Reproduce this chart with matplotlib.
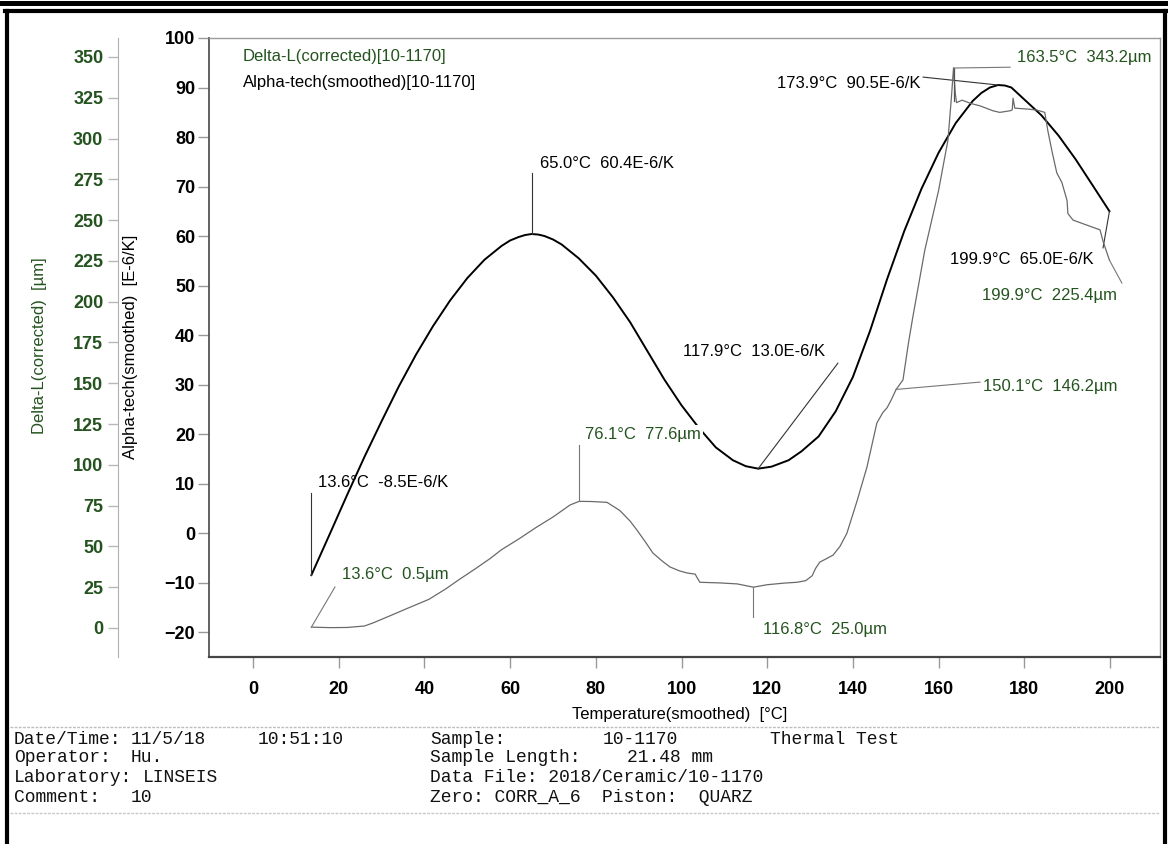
import matplotlib.pyplot as plt

plt.rcParams['font.family'] = ['Liberation Sans', 'DejaVu Sans']

# alpha-tech (smoothed), E-6/K
alpha_temp = [13.6, 18, 22, 26, 30, 34, 38, 42, 46, 50, 54, 58, 60, 62, 63.5, 65.0, 66.5,
              68, 70, 72, 76, 80, 84, 88, 92, 96, 100, 104, 108, 112, 115, 117.9, 121, 125,
              128, 132, 136, 140, 144, 148, 152, 156, 160, 164, 168, 170, 172, 173.9, 175.5,
              177, 180, 184, 188, 192, 196, 199.9]
alpha_val = [-8.5, 0.0, 7.8, 15.4, 22.6, 29.6, 36.0, 41.8, 47.0, 51.5, 55.2, 58.0, 59.1,
             59.8, 60.2, 60.4, 60.3, 60.0, 59.3, 58.3, 55.5, 52.0, 47.6, 42.6, 36.8, 31.0,
             25.8, 21.3, 17.3, 14.7, 13.5, 13.0, 13.4, 14.7, 16.5, 19.5, 24.6, 31.5, 40.8,
             51.3, 61.0, 69.5, 76.8, 82.8, 87.3, 88.9, 90.0, 90.5, 90.4, 90.0, 87.6, 84.4,
             80.3, 75.5, 70.2, 65.0]

# delta-L (corrected), um
dl_temp = [13.6, 18, 22, 26, 28, 32, 36, 41, 45, 48, 52, 55.3, 58, 62, 66, 70, 74, 76.1,
           79, 82.6, 85.6, 88, 89.6, 91.5, 93.3, 95.5, 97.3, 99.5, 101.3, 103.2, 103.6,
           104.3, 109, 113, 116.8, 120, 124, 127, 129, 130.5, 131.3, 132.3, 133.5, 135.4,
           137, 138.6, 141, 143.3, 145.6, 147, 148, 149, 150.1, 151.7, 153, 154, 156.8,
           160, 162.2, 163.0, 163.5, 163.9, 164.2, 165.5, 167.5, 169.7, 172.7, 174.3,
           176.7, 177.2, 177.4, 177.8, 181, 183, 184.8, 185.5, 186.5, 187.6, 188.8, 190,
           190.2, 191.4, 194, 197.7, 198.4, 199.9]
dl_val = [0.5, 0.2, 0.3, 1.2, 3.1, 7.5, 12.0, 17.5, 24.0, 29.5, 36.5, 42.5, 48.0, 54.5,
          61.5, 68.0, 75.4, 77.6, 77.5, 77.0, 72.0, 65.5, 60.0, 53.0, 46.0, 41.0, 37.4,
          35.0, 33.7, 33.0, 31.0, 28.0, 27.6, 27.0, 25.0, 26.5, 27.5, 28.0, 29.0, 32.0,
          36.5, 40.4, 42.0, 44.7, 50.0, 58.0, 78.0, 98.7, 125.6, 132.0, 135.0, 140.0,
          146.2, 152.0, 175.0, 190.6, 231.6, 268.0, 299.0, 325.0, 343.2, 328.0, 322.0,
          323.5, 321.5, 320.0, 317.0, 316.0, 317.0, 317.5, 324.7, 318.6, 318.0, 317.4,
          316.0, 305.0, 292.0, 279.0, 273.0, 262.0, 254.0, 250.0, 247.5, 244.0, 237.0,
          225.4]

# evaluated points
alpha_mark_t = [13.6, 65.0, 117.9, 173.9, 199.9]
alpha_mark_v = [-8.5, 60.4, 13.0, 90.5, 65.0]
dl_mark_t = [13.6, 76.1, 116.8, 150.1, 163.5, 199.9]
dl_mark_v = [0.5, 77.6, 25.0, 146.2, 343.2, 225.4]

x_ticks = list(range(0, 201, 20))
alpha_ticks = list(range(-20, 101, 10))
dl_ticks = list(range(0, 351, 25))

GREEN = '#24531f'
W, H = 1168, 844

fig = plt.figure(figsize=(W / 100, H / 100), dpi=100)


def fx(x):
    return x / W


def fy(y):
    return 1 - y / H


ax = fig.add_axes([fx(209), fy(657), (1160 - 209) / W, (657 - 38) / H])
ax.set_xlim(-10.3, 211.7)
ax.set_ylim(-25.05, 100)
ax.plot(alpha_temp, alpha_val, color='black', lw=1.4, solid_joinstyle='round')

ax2 = ax.twinx()
ax2.set_ylim(-17.8, 361.6)
ax2.plot(dl_temp, dl_val, color='#6a6a6a', lw=0.9)

# axes styling
for s in ['top', 'right']:
    ax.spines[s].set_color('#9a9a9a')
    ax.spines[s].set_linewidth(1.0)
ax.spines['left'].set_color('#555555')
ax.spines['left'].set_linewidth(1.3)
ax.spines['bottom'].set_color('#444444')
ax.spines['bottom'].set_linewidth(1.6)

ax.set_xticks(x_ticks)
ax.set_yticks(alpha_ticks)
ax.tick_params(axis='x', direction='out', length=8, width=1, color='#999999', pad=9,
               labelsize=13)
ax.tick_params(axis='y', direction='out', length=8, width=1, color='#999999', pad=2,
               labelsize=13)
for lab in ax.get_xticklabels() + ax.get_yticklabels():
    lab.set_fontweight('bold')

for s in ['top', 'bottom', 'right']:
    ax2.spines[s].set_visible(False)
ax2.spines['left'].set_visible(True)
ax2.spines['left'].set_position(('outward', 65.5))
ax2.spines['left'].set_color('#b0b0b0')
ax2.yaxis.set_ticks_position('left')
ax2.set_yticks(dl_ticks)
ax2.tick_params(axis='y', direction='out', length=7, width=1, color='#b8b8b8', pad=3.6,
                labelsize=13, labelcolor=GREEN)
for lab in ax2.get_yticklabels():
    lab.set_fontweight('bold')

# leader lines and value labels
alpha_lead = [(13.6, 8.1), (65.0, 72.7), (136.5, 34.3), (156.4, 92.1), (198.4, 57.6)]
alpha_lab_pos = [(15.2, 10.3, 'left'), (67.0, 74.7, 'left'), (100.4, 36.6, 'left'),
                 (155.7, 90.9, 'right'), (162.7, 55.2, 'left')]
for t, v, (lx, ly), (tx, ty, ha) in zip(alpha_mark_t, alpha_mark_v, alpha_lead, alpha_lab_pos):
    ax.plot([t, lx], [v, ly], color='#333333', lw=0.8)
    ax2.text(tx, ty, f'{t:.1f}°C  {v:.1f}E-6/K', transform=ax.transData, ha=ha,
             va='center', fontsize=12, color='black')

dl_lead = [(19.1, 25.1), (76.1, 112.0), (116.8, 6.7), (169.7, 150.7), (176.7, 343.7),
           (202.8, 211.4)]
dl_lab_pos = [(20.8, 32.5), (77.5, 118.3), (119.0, -1.2), (170.4, 147.7), (178.3, 349.9),
              (170.1, 204.0)]
for t, v, (lx, ly), (tx, ty) in zip(dl_mark_t, dl_mark_v, dl_lead, dl_lab_pos):
    if t == 163.5:
        ax2.plot([t, t], [v, 323.0], color='#555555', lw=0.9)
    ax2.plot([t, lx], [v, ly], color='#777777', lw=0.8)
    txt = ax2.text(tx, ty, f'{t:.1f}°C  {v:.1f}µm', ha='left', va='center', fontsize=12,
                   color=GREEN, zorder=5)
    if t == 76.1:
        txt.set_bbox(dict(facecolor='white', edgecolor='none', pad=1.5))

# series captions
fig.text(fx(243), fy(57), 'Delta-L(corrected)[10-1170]', fontsize=12, color=GREEN,
         va='center')
fig.text(fx(243), fy(83), 'Alpha-tech(smoothed)[10-1170]', fontsize=12, color='black',
         va='center')

# axis titles
fig.text(fx(40), fy(346), 'Delta-L(corrected)  [µm]', rotation=90, fontsize=12,
         color=GREEN, ha='center', va='center')
fig.text(fx(130), fy(347), 'Alpha-tech(smoothed)  [E-6/K]', rotation=90, fontsize=12,
         color='black', ha='center', va='center')
fig.text(fx(680), fy(714), 'Temperature(smoothed)  [°C]', fontsize=12, color='black',
         ha='center', va='center')

# run info block
mono = dict(family='Liberation Mono', fontsize=13, va='center', color='#111111')
info_rows = [
    (739, [(14, 'Date/Time:'), (131, '11/5/18'), (258, '10:51:10'), (430, 'Sample:'),
           (603, '10-1170'), (770, 'Thermal Test')]),
    (758, [(14, 'Operator:'), (131, 'Hu.'), (430, 'Sample Length:'), (627, '21.48 mm')]),
    (777, [(14, 'Laboratory:'), (143, 'LINSEIS'), (430, 'Data File: 2018/Ceramic/10-1170')]),
    (797, [(14, 'Comment:'), (131, '10'), (430, 'Zero: CORR_A_6  Piston:  QUARZ')]),
]
for y, items in info_rows:
    for x, s in items:
        fig.text(fx(x), fy(y), s, **mono)

# separator lines and frame
fig.add_artist(plt.Line2D([fx(10), fx(1160)], [fy(727), fy(727)], color='#bdbdbd', lw=1,
                          ls=(0, (2, 1))))
fig.add_artist(plt.Line2D([fx(10), fx(1160)], [fy(813), fy(813)], color='#c8c8c8', lw=1,
                          ls=(0, (2, 1))))
fig.add_artist(plt.Line2D([0, 1], [fy(2.5), fy(2.5)], color='black', lw=3.6))
fig.add_artist(plt.Line2D([fx(5), fx(1167)], [fy(11), fy(11)], color='black', lw=3.0))
fig.add_artist(plt.Line2D([fx(7), fx(7)], [fy(11), 0], color='black', lw=3.0))
fig.add_artist(plt.Line2D([fx(1165), fx(1165)], [fy(11), 0], color='black', lw=3.0))

fig.savefig('out.png', dpi=100)
